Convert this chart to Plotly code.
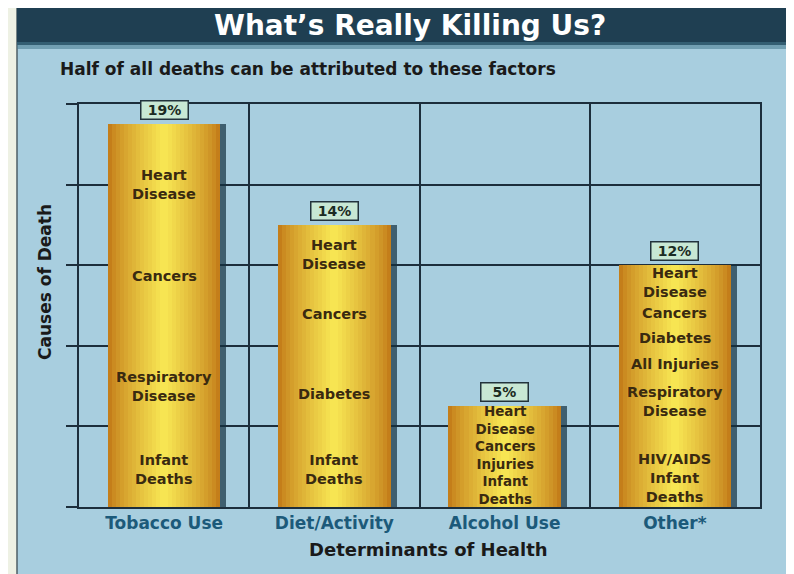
import plotly.graph_objects as go

# ---------------- data ----------------
categories = ["Tobacco Use", "Diet/Activity", "Alcohol Use", "Other*"]
percent = [19, 14, 5, 12]
percent_text = ["19%", "14%", "5%", "12%"]

tobacco_labels = ["Heart\nDisease", "Cancers", "Respiratory\nDisease", "Infant\nDeaths"]
tobacco_levels = [16.03, 11.46, 5.96, 1.84]
diet_labels = ["Heart\nDisease", "Cancers", "Diabetes", "Infant\nDeaths"]
diet_levels = [12.53, 9.58, 5.61, 1.84]
alcohol_labels = ["Heart\nDisease\nCancers\nInjuries\nInfant\nDeaths"]
alcohol_levels = [2.56]
other_labels = ["Heart\nDisease", "Cancers", "Diabetes", "All Injuries",
                "Respiratory\nDisease", "HIV/AIDS\nInfant\nDeaths"]
other_levels = [11.14, 9.63, 8.39, 7.10, 5.26, 1.46]

y_ticks = [0, 4, 8, 12, 16, 20]

title_text = "What’s Really Killing Us?"
subtitle_text = "Half of all deaths can be attributed to these factors"
x_title = "Determinants of Health"
y_title = "Causes of Death"

# ---------------- layout geometry ----------------
# the page body adds an 8px offset, so the figure is drawn 8px smaller
OFF = 8
FIG_W, FIG_H = 794 - OFF, 574 - OFF
L, R, T, B = 79, 760, 104, 507          # plot box in screenshot pixels
PW, PH = R - L, B - T


def px_x(px):
    return (px - L) / PW


def px_y(py):
    return (B - py) / PH


def mix(c1, c2, t):
    a = [int(c1[i:i + 2], 16) for i in (1, 3, 5)]
    b = [int(c2[i:i + 2], 16) for i in (1, 3, 5)]
    return "#" + "".join(f"{round(x + (y - x) * t):02X}" for x, y in zip(a, b))


xs = list(range(len(categories)))
BAR_W = 0.66
GRID = "#1C2E3C"
FONT_B = "DejaVu Sans"
LABEL_SIZES = [14.5, 14.5, 13.5, 14.5]

fig = go.Figure()

# shadow of bars
fig.add_trace(go.Bar(x=xs, y=percent, width=BAR_W, offset=-BAR_W / 2 + 0.035,
                     marker=dict(color="rgba(18,48,62,0.7)", line=dict(width=0)),
                     hoverinfo="skip", showlegend=False))

# gold gradient bars (layered)
N = 14
for k in range(N):
    w = BAR_W * (1 - k / N)
    c = mix("#C47E1A", "#F7E552", (k / (N - 1)) ** 0.8)
    fig.add_trace(go.Bar(x=xs, y=percent, width=w,
                         marker=dict(color=c, line=dict(width=0)),
                         hoverinfo="skip", showlegend=False))

annotations = []

# percentage boxes
for i, (p, t) in enumerate(zip(percent, percent_text)):
    annotations.append(dict(
        x=i, y=p, xref="x", yref="y", text=f"<b>{t}</b>", showarrow=False,
        yanchor="bottom", yshift=4,
        font=dict(family=FONT_B, size=14, color="#1B2B22"),
        bgcolor="#C8E8D4", bordercolor="#22333C", borderwidth=1.5,
        borderpad=1, width=44, height=15))

# labels inside bars
all_labels = [tobacco_labels, diet_labels, alcohol_labels, other_labels]
all_levels = [tobacco_levels, diet_levels, alcohol_levels, other_levels]
for i, (labels, levels) in enumerate(zip(all_labels, all_levels)):
    for txt, lv in zip(labels, levels):
        annotations.append(dict(
            x=i, y=lv, xref="x", yref="y",
            text="<br>".join(f"<b>{s}</b>" for s in txt.split("\n")),
            showarrow=False, yanchor="middle", xanchor="center", borderpad=0,
            font=dict(family=FONT_B, size=LABEL_SIZES[i], color="#3A2A10")))

# title, subtitle, axis titles
annotations.append(dict(x=px_x(409.5), y=px_y(25), xref="paper", yref="paper",
                        text=f"<b>{title_text}</b>", showarrow=False,
                        xanchor="center", yanchor="middle",
                        font=dict(family=FONT_B, size=28, color="#FFFFFF")))
annotations.append(dict(x=px_x(58), y=px_y(69), xref="paper", yref="paper",
                        text=f"<b>{subtitle_text}</b>", showarrow=False,
                        xanchor="left", yanchor="middle",
                        font=dict(family=FONT_B, size=17, color="#1A1A1A")))
annotations.append(dict(x=px_x(428), y=px_y(549), xref="paper", yref="paper",
                        text=f"<b>{x_title}</b>", showarrow=False,
                        xanchor="center", yanchor="middle",
                        font=dict(family=FONT_B, size=18, color="#1A1A1A")))
annotations.append(dict(x=px_x(45), y=px_y(282), xref="paper", yref="paper",
                        text=f"<b>{y_title}</b>", showarrow=False, textangle=-90,
                        xanchor="center", yanchor="middle",
                        font=dict(family=FONT_B, size=17, color="#1A1A1A")))

shapes = [
    # light blue panel
    dict(type="rect", xref="paper", yref="paper", layer="below",
         x0=px_x(17), x1=px_x(800), y0=px_y(580), y1=px_y(45),
         fillcolor="#A8CEDF", line=dict(width=0)),
    # panel left border
    dict(type="line", xref="paper", yref="paper", layer="below",
         x0=px_x(17), x1=px_x(17), y0=px_y(580), y1=px_y(0),
         line=dict(color="#4E5E66", width=1.5)),
    # title bar
    dict(type="rect", xref="paper", yref="paper", layer="below",
         x0=px_x(17), x1=px_x(800), y0=px_y(45), y1=px_y(5),
         fillcolor="#1F3F52", line=dict(width=0)),
    dict(type="rect", xref="paper", yref="paper", layer="below",
         x0=px_x(17), x1=px_x(800), y0=px_y(49), y1=px_y(42),
         fillcolor="rgba(70,120,140,0.55)", line=dict(width=0)),
]

fig.update_layout(
    width=FIG_W, height=FIG_H,
    margin=dict(l=L - OFF, r=FIG_W - (R - OFF), t=T - OFF, b=FIG_H - (B - OFF), pad=0),
    paper_bgcolor="#EEF1E4",
    plot_bgcolor="rgba(0,0,0,0)",
    barmode="overlay",
    bargap=0,
    showlegend=False,
    annotations=annotations,
    shapes=shapes,
    xaxis=dict(
        range=[-0.5, 3.5], tickvals=xs, ticktext=[f"<b>{c}</b>" for c in categories],
        tickfont=dict(family=FONT_B, size=17, color="#1C5A7A"),
        showgrid=False, zeroline=False, ticks="",
        showline=True, linecolor=GRID, linewidth=1.5, mirror=True,
        minor=dict(tickvals=[-0.5, 0.5, 1.5, 2.5, 3.5], showgrid=True,
                   gridcolor=GRID, gridwidth=1.5, ticks=""),
        fixedrange=True,
    ),
    yaxis=dict(
        range=[0, 20], tickvals=y_ticks, showticklabels=False,
        showgrid=True, gridcolor=GRID, gridwidth=1.5, zeroline=False,
        ticks="outside", ticklen=11, tickwidth=1.5, tickcolor=GRID,
        showline=True, linecolor=GRID, linewidth=1.5, mirror=True,
        fixedrange=True,
    ),
)

fig.write_html("out.html")
